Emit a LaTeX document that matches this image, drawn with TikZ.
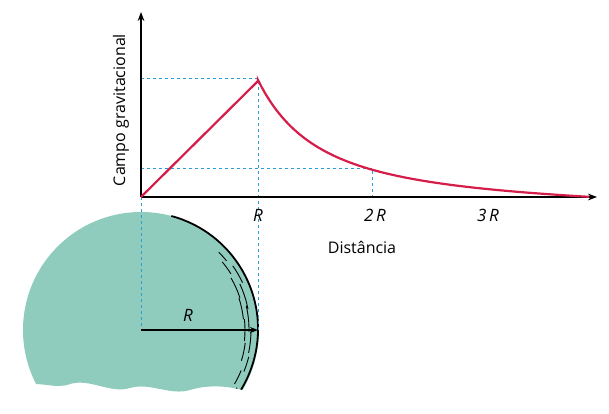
\documentclass[tikz,border=0pt]{standalone}
\usepackage{fontspec}
\setmainfont{Open Sans}
\usetikzlibrary{arrows.meta,calc}
\definecolor{teal1}{RGB}{143,204,190}
\definecolor{crv}{RGB}{214,28,72}
\definecolor{dsh}{RGB}{40,160,220}
\tikzset{axis/.style={line width=1.5pt,-{Stealth[length=9pt]}},
 guide/.style={dsh,dashed,line width=0.7pt},
 lbl/.style={font=\fontsize{17}{20}\selectfont\itshape}}
\begin{document}
\begin{tikzpicture}[x=1pt,y=-1pt]
\useasboundingbox (0,0) rectangle (609,414);
% sphere
\begin{scope}
\clip (0,0) -- (609,0) -- (609,392) -- (250,392) .. controls (230,386) and (210,384) .. (190,390) .. controls (170,396) and (150,382) .. (130,388) .. controls (110,394) and (90,378) .. (70,384) .. controls (55,390) and (40,380) .. (20,386) -- (0,388) -- cycle;
\fill[teal1] (141,330) circle (118);
\draw[line width=1.8pt] (171.3,216) arc[start angle=-75,end angle=65,radius=117];
\foreach \a/\r/\l in {-42/110/6,-36/106/8,-30/112/10,-24/104/12,-18/109/14,-12/103/12,-6/108/14,0/104/12,6/110/12,12/105/10,18/111/8,26/108/8,34/112/6}{
 \draw[line width=0.9pt] ($(141,330)+(\a-\l/2:\r)$) arc[start angle=\a-\l/2,end angle=\a+\l/2,radius=\r];}
\end{scope}
\coordinate (O) at (141,197);
\coordinate (C) at (141,330);
\coordinate (Rs) at (258,330);
% guides
\draw[guide] (141,78) -- (258,78) -- (258,330);
\draw[guide] (141,168) -- (372,168) -- (372,197);
\draw[guide] (O) -- (C);
% axes
\draw[axis] (O) -- (141,12);
\draw[axis] (O) -- (597,197);
\node[rotate=90,font=\fontsize{16}{19}\selectfont] (yl) at (121,110) {Campo gravitacional};
\node[font=\fontsize{16}{19}\selectfont] (xl) at (362,247) {Distância};
\node[lbl] (r1) at (258,215) {R};
\node[lbl] (r2) at (375,215) {2\,R};
\node[lbl] (r3) at (488,215) {3\,R};
% curve
\draw[crv,line width=2.2pt] (O) -- (258,81) -- plot[domain=117:448,samples=90,smooth] ({141+\x},{197-117*(117/\x)^2+7.8*(\x-117)/331});
% radius
\draw[line width=1.6pt,-{Stealth[length=8pt]}] (C) -- (Rs);
\node[lbl] (rr) at (188,315) {R};
\end{tikzpicture}
\end{document}
